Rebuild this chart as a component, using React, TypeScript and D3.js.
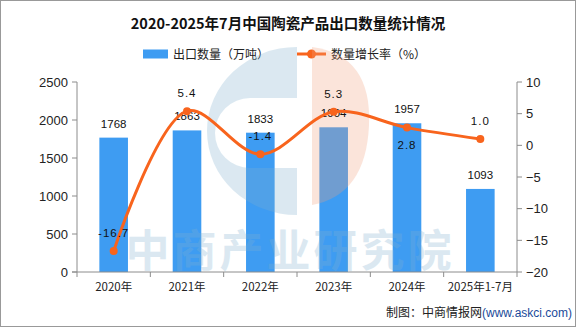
import React from "react";
import * as d3 from "d3";

const categories = ["2020年", "2021年", "2022年", "2023年", "2024年", "2025年1-7月"];
const exportVolume = [1768, 1863, 1833, 1904, 1957, 1093];
const growthRate = [-16.7, 5.4, -1.4, 5.3, 2.8, 1.0];
const leftTicks = [0, 500, 1000, 1500, 2000, 2500];
const rightTicks = [-20, -15, -10, -5, 0, 5, 10];
const labelBelow = [false, false, false, false, true, false];

const W = 576;
const H = 327;
const BAR = "#3e9cf2";
const LINE = "#f8641d";
const AXIS = "#8c8c8c";
const FONT = "'Noto Sans CJK SC', 'Liberation Sans', sans-serif";
const NUM = "'Liberation Sans', sans-serif";

export default function App() {
  const left = 77, right = 517, top = 82, bottom = 272;
  const x = d3.scaleBand<string>().domain(categories).range([left, right]).paddingInner(0).paddingOuter(0);
  const bw = x.bandwidth() * 0.39;
  const yL = d3.scaleLinear().domain([0, 2500]).range([bottom, top]);
  const yR = d3.scaleLinear().domain([-20, 10]).range([bottom, top]);
  const cx = (c: string) => (x(c) as number) + x.bandwidth() / 2;
  const pts: [number, number][] = categories.map((c, i) => [cx(c), yR(growthRate[i])]);
  const line = d3.line().curve(d3.curveCatmullRom.alpha(0.5))(pts) as string;
  const boundaries = d3.range(categories.length + 1).map((i) => left + i * x.bandwidth());

  return (
    <div style={{ position: "fixed", left: 0, top: 0 }}>
      <svg width={W} height={H} style={{ display: "block", background: "#fff" }}>
        <rect x={0.5} y={0.5} width={W - 1} height={H - 1} fill="#fff" stroke="#999" />
        <text x={288} y={29} textAnchor="middle" fontFamily={FONT} fontWeight="bold" fontSize={14.5} fill="#111">
          2020-2025年7月中国陶瓷产品出口数量统计情况
        </text>
        {/* legend */}
        <rect x={143} y={49.5} width={25} height={9} fill={BAR} />
        <text x={173} y={58.5} fontFamily={FONT} fontSize={12} fill="#222">出口数量（万吨）</text>
        <line x1={297} x2={326} y1={54} y2={54} stroke={LINE} strokeWidth={3} />
        <circle cx={311.5} cy={54} r={4.5} fill={LINE} />
        <text x={331} y={58.5} fontFamily={FONT} fontSize={12} fill="#222">数量增长率（%）</text>

        {/* axes */}
        <line x1={left} x2={left} y1={top} y2={bottom} stroke={AXIS} />
        {leftTicks.map((t) => (
          <g key={"l" + t}>
            <line x1={left - 5} x2={left} y1={yL(t)} y2={yL(t)} stroke={AXIS} />
            <text x={68} y={yL(t) + 4.5} textAnchor="end" fontFamily={NUM} fontSize={13} fill="#222">{t}</text>
          </g>
        ))}
        <line x1={right} x2={right} y1={top} y2={bottom} stroke={AXIS} />
        {rightTicks.map((t) => (
          <g key={"r" + t}>
            <line x1={right} x2={right + 5} y1={yR(t)} y2={yR(t)} stroke={AXIS} />
            <text x={526} y={yR(t) + 4.5} fontFamily={NUM} fontSize={13} fill="#222">{t < 0 ? "−" + Math.abs(t) : t}</text>
          </g>
        ))}

        {/* bars */}
        {categories.map((c, i) => (
          <rect key={"b" + c} x={cx(c) - bw / 2} y={yL(exportVolume[i])} width={bw} height={bottom - yL(exportVolume[i])} fill={BAR} />
        ))}
        <line x1={left - 5} x2={right} y1={bottom} y2={bottom} stroke={AXIS} />
        {boundaries.map((b, i) => (
          <line key={"xt" + i} x1={b} x2={b} y1={bottom} y2={bottom + 5} stroke={AXIS} />
        ))}
        {categories.map((c) => (
          <text key={"xl" + c} x={cx(c)} y={291} textAnchor="middle" fontFamily={FONT} fontSize={11.5} fill="#222">{c}</text>
        ))}

        {/* watermark */}
        <g opacity={0.28}>
          <path d="M297,47 A90,84 0 0 0 297,215 L297,168 L250,168 A35,35 0 0 1 250,98 L297,98 Z" fill="#7fb0cf" />
          <path d="M312,47 Q372,55 369,125 Q366,195 312,205 Z" fill="#f2a07c" />
          <text x={290} y={267} textAnchor="middle" fontFamily={FONT} fontWeight="bold" fontSize={44} letterSpacing={3} fill="#7fb0cf">中商产业研究院</text>
        </g>

        {/* bar labels */}
        {categories.map((c, i) => (
          <text key={"bl" + c} x={cx(c)} y={yL(exportVolume[i]) - 10} textAnchor="middle" fontFamily={NUM} fontSize={11.5} fill="#111">{exportVolume[i]}</text>
        ))}

        {/* line */}
        <path d={line} fill="none" stroke={LINE} strokeWidth={3} />
        {pts.map((p, i) => (
          <circle key={"p" + i} cx={p[0]} cy={p[1]} r={4} fill={LINE} />
        ))}
        {pts.map((p, i) => (
          <text key={"pl" + i} x={p[0]} y={labelBelow[i] ? p[1] + 21 : p[1] - 14} textAnchor="middle" fontFamily={NUM} fontSize={11.5} letterSpacing={1} fill="#111">
            {growthRate[i].toFixed(1)}
          </text>
        ))}

        {/* footer */}
        <text x={386} y={317} fontFamily={FONT} fontSize={12} fill="#222">
          制图：中商情报网<tspan fill="#1a4a9a" fontFamily={NUM}>(www.askci.com)</tspan>
        </text>
      </svg>
    </div>
  );
}
